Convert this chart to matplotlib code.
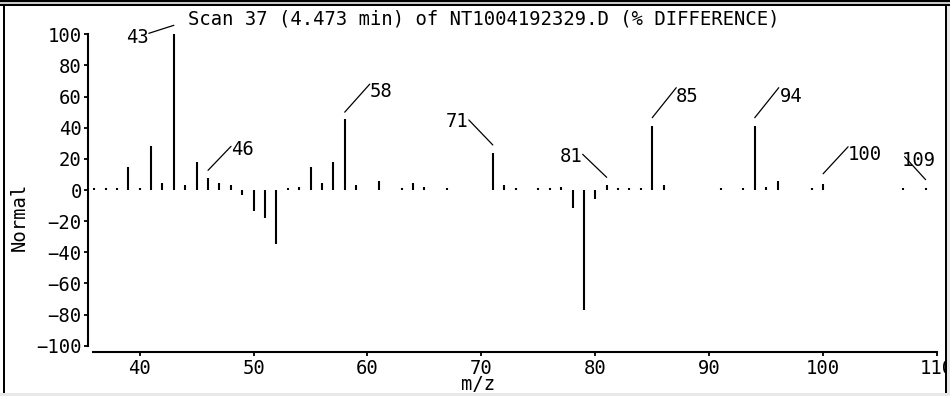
import matplotlib
matplotlib.use('Agg')
import matplotlib.pyplot as plt
from matplotlib.transforms import offset_copy
from matplotlib.patches import Rectangle

# ---- data ----
mz = [36, 37, 38, 39, 40, 41, 42, 43, 44, 45, 46, 47, 48, 49, 50, 51, 52, 53, 54,
      55, 56, 57, 58, 59, 61, 63, 64, 65, 67, 71, 72, 73, 75, 76, 77, 78, 79, 80,
      81, 82, 83, 84, 85, 86, 91, 93, 94, 95, 96, 99, 100, 107, 109]
intensity = [1, 1, 1, 15, 1, 28, 4.5, 100, 3, 17.8, 7.5, 4.5, 3, -3, -13.3, -18, -35, 1, 2,
             15, 4.5, 17.8, 45.5, 3, 5.5, 1, 4.5, 2, 1, 23.8, 3, 1, 1, 1, 2, -11.8, -77, -5.8,
             3, 1, 1, 1, 41.3, 3, 1, 1.5, 41.3, 2, 5.6, 1, 4, 1, 1.5]
label_mz = [43, 46, 58, 71, 81, 85, 94, 100, 109]
x_ticks = [40, 50, 60, 70, 80, 90, 100, 110]
y_ticks = [-100, -80, -60, -40, -20, 0, 20, 40, 60, 80, 100]
title_text = "Scan 37 (4.473 min) of NT1004192329.D (% DIFFERENCE)"
x_label = "m/z"
y_label = "Normal"

# ---- layout / style (pixels) ----
W, H = 950, 396
FS = 13.6
plt.rcParams['font.family'] = ['DejaVu Sans Mono']

fig = plt.figure(figsize=(W / 100, H / 100), dpi=100)
fig.patch.set_facecolor('white')

ax = fig.add_axes([93 / W, 1 - 345.7 / H, 844 / W, 311.4 / H])
ax.set_facecolor('white')
ax.vlines(mz, 0, intensity, colors='black', linewidth=1.5, capstyle='butt')
ax.set_xlim(35.9, 110.0)
ax.set_ylim(-100, 100)
ax.spines['top'].set_visible(False)
ax.spines['right'].set_visible(False)
ax.spines['left'].set_position(('outward', 3.6))
ax.spines['bottom'].set_position(('outward', 4.75))
for s in ('left', 'bottom'):
    ax.spines[s].set_linewidth(1.5)
ax.set_xticks(x_ticks)
ax.set_yticks(y_ticks)
ax.tick_params(axis='both', direction='out', length=3, width=1.3, labelsize=FS, pad=2)
ax.tick_params(axis='y', pad=1.5)

# leader lines + peak labels: (gap, dx, dy, ha, tx, ty) in pixels, up positive
leader = {
    43: (9, -25, -8, 'right', 0, -2),
    46: (8, 23, 24, 'left', 0, -1),
    58: (7, 25, 28, 'left', 0, -5),
    71: (8, -24, 25, 'right', 0, 0),
    81: (8, -24, 23, 'right', 0, 0),
    85: (8, 24, 30, 'left', 0, -7),
    94: (8, 24, 30, 'left', 1, -7),
    100: (10, 25, 27, 'left', 0, -6),
    109: (8, -21, 23, 'left', -3, -1.5),
}
for m in label_mz:
    val = intensity[mz.index(m)]
    gap, dx, dy, ha, tx, ty = leader[m]
    base = offset_copy(ax.transData, fig=fig, x=0, y=gap, units='dots')
    ax.annotate('', xy=(m, val), xycoords=base, xytext=(dx, dy),
                textcoords='offset pixels',
                arrowprops=dict(arrowstyle='-', lw=0.9, color='black',
                                shrinkA=0, shrinkB=0))
    ax.annotate(str(m), xy=(m, val), xycoords=base, xytext=(dx + tx, dy + ty),
                textcoords='offset pixels', ha=ha, va='center_baseline',
                fontsize=FS, annotation_clip=False)

fig.text(483.5 / W, 1 - 17 / H, title_text, ha='center', va='center_baseline', fontsize=FS)
fig.text(19 / W, 1 - 217 / H, y_label, rotation=90, ha='center', va='center', fontsize=FS)
fig.text(478 / W, 1 - 390 / H, x_label, ha='center', va='baseline', fontsize=FS, zorder=12)

# window frame
def rect(x0, y0, x1, y1, color):
    fig.add_artist(Rectangle((x0 / W, 1 - y1 / H), (x1 - x0) / W, (y1 - y0) / H,
                             transform=fig.transFigure, facecolor=color,
                             edgecolor='none', zorder=10))

rect(0, 0, W, 2, 'black')
rect(0, 2, W, 4, '#c8c8c8')
rect(0, 4, W, 6, 'black')
rect(3, 6, 5, 393, 'black')
rect(945, 6, 947, 393, 'black')
rect(947, 6, W, 396, '#e8e8e8')
rect(0, 393, W, H, '#e8e8e8')

fig.savefig('out.png', dpi=100, facecolor='white')
